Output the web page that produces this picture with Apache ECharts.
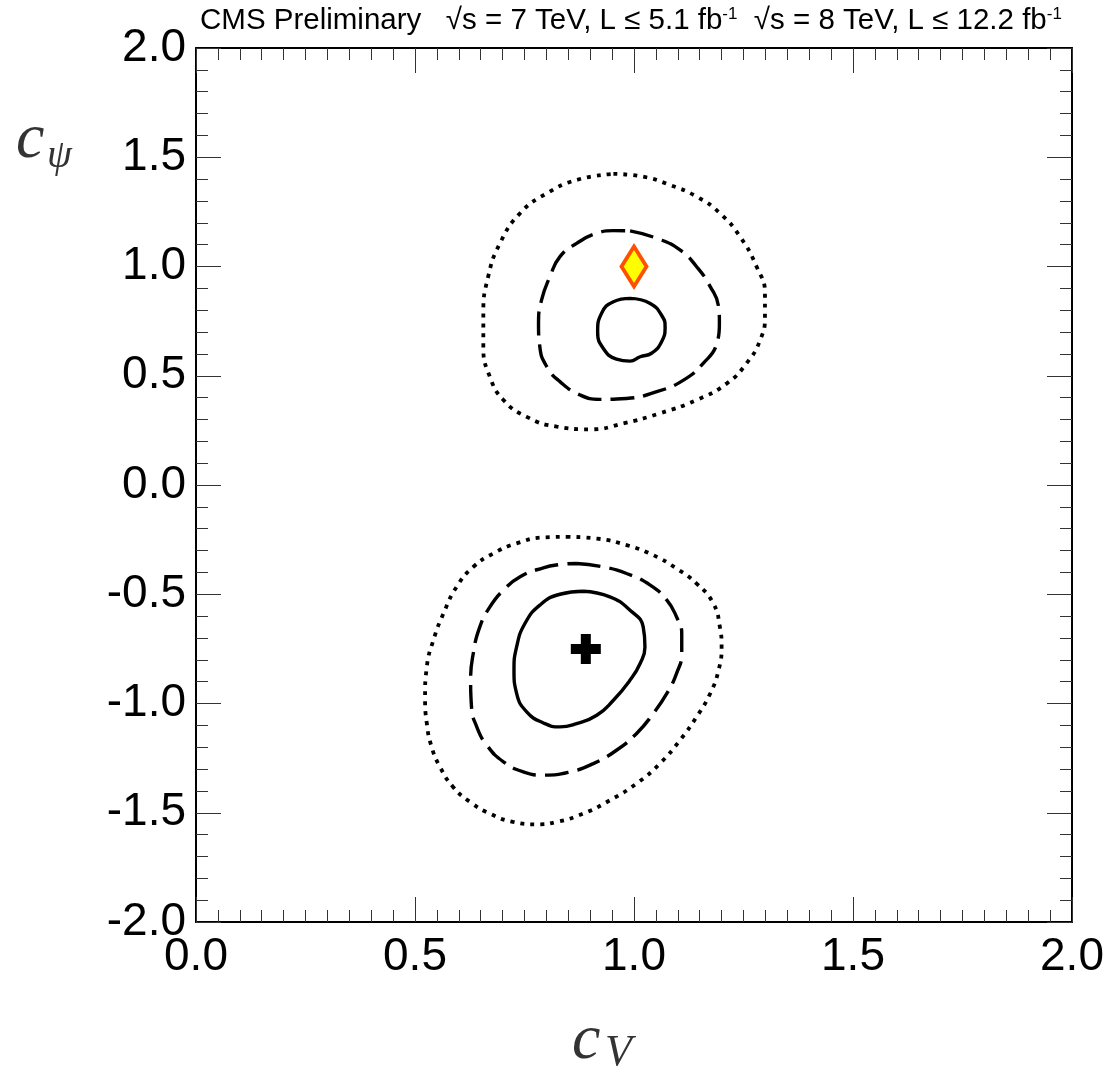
<!DOCTYPE html>
<html>
<head>
<meta charset="utf-8">
<script src="https://cdn.jsdelivr.net/npm/echarts@6/dist/echarts.min.js"></script>
<style>
html,body{margin:0;padding:0;background:#fff;}
#chart{width:1113px;height:1072px;}
</style>
</head>
<body>
<div id="chart"></div>
<script>
// ---- Data ----
const xTickValues = [0.0, 0.5, 1.0, 1.5, 2.0];
const xTickLabels = ['0.0', '0.5', '1.0', '1.5', '2.0'];
const yTickValues = [-2.0, -1.5, -1.0, -0.5, 0.0, 0.5, 1.0, 1.5, 2.0];
const yTickLabels = ['-2.0', '-1.5', '-1.0', '-0.5', '0.0', '0.5', '1.0', '1.5', '2.0'];

// Upper region contours (cV, cpsi)
const upper68 = [
  [0.991,0.854],[1.037,0.831],[1.065,0.770],[1.071,0.724],[1.063,0.656],[1.040,0.603],
  [1.014,0.587],[0.991,0.567],[0.960,0.576],[0.930,0.625],[0.917,0.701],[0.926,0.786],
  [0.953,0.839],[0.991,0.854]
];
const upper95 = [
  [0.991,1.163],[1.052,1.129],[1.105,1.076],[1.143,0.999],[1.174,0.908],[1.193,0.816],
  [1.195,0.740],[1.189,0.648],[1.158,0.557],[1.113,0.480],[1.052,0.427],[0.983,0.396],
  [0.922,0.392],[0.877,0.412],[0.831,0.473],[0.801,0.541],[0.785,0.633],[0.782,0.740],
  [0.789,0.847],[0.808,0.953],[0.831,1.045],[0.869,1.106],[0.915,1.152],[0.953,1.164],
  [0.991,1.163]
];
const upper99 = [
  [0.953,1.424],[1.021,1.411],[1.082,1.373],[1.143,1.320],[1.196,1.244],[1.242,1.137],
  [1.280,0.999],[1.299,0.877],[1.299,0.770],[1.288,0.663],[1.257,0.557],[1.212,0.465],
  [1.143,0.389],[1.059,0.328],[0.976,0.282],[0.900,0.255],[0.824,0.267],[0.755,0.312],
  [0.702,0.389],[0.671,0.495],[0.656,0.633],[0.656,0.786],[0.667,0.953],[0.694,1.106],
  [0.740,1.244],[0.801,1.335],[0.869,1.396],[0.953,1.424]
];
// Lower region contours
const lower68 = [
  [0.884,-0.486],[0.945,-0.512],[0.991,-0.573],[1.021,-0.649],[1.025,-0.741],[1.014,-0.817],
  [0.991,-0.893],[0.953,-0.985],[0.915,-1.054],[0.869,-1.092],[0.831,-1.107],[0.793,-1.089],
  [0.755,-1.038],[0.732,-0.954],[0.726,-0.848],[0.732,-0.741],[0.751,-0.634],[0.785,-0.550],
  [0.831,-0.500],[0.884,-0.486]
];
const lower95 = [
  [0.869,-0.359],[0.930,-0.375],[0.983,-0.405],[1.037,-0.458],[1.075,-0.527],[1.097,-0.603],
  [1.109,-0.680],[1.109,-0.771],[1.097,-0.863],[1.075,-0.954],[1.044,-1.046],[1.006,-1.137],
  [0.960,-1.214],[0.907,-1.275],[0.854,-1.313],[0.793,-1.328],[0.747,-1.313],[0.702,-1.267],
  [0.664,-1.191],[0.641,-1.107],[0.629,-1.016],[0.627,-0.893],[0.633,-0.771],[0.648,-0.649],
  [0.671,-0.558],[0.702,-0.481],[0.740,-0.420],[0.793,-0.379],[0.831,-0.364],[0.869,-0.359]
];
const lower99 = [
  [0.846,-0.237],[0.915,-0.245],[0.983,-0.275],[1.044,-0.321],[1.097,-0.382],[1.143,-0.451],
  [1.181,-0.542],[1.196,-0.649],[1.200,-0.741],[1.193,-0.848],[1.174,-0.954],[1.143,-1.061],
  [1.105,-1.168],[1.059,-1.275],[1.006,-1.366],[0.945,-1.443],[0.884,-1.504],[0.824,-1.542],
  [0.778,-1.553],[0.724,-1.542],[0.671,-1.504],[0.626,-1.451],[0.587,-1.382],[0.557,-1.290],
  [0.538,-1.199],[0.527,-1.092],[0.523,-0.970],[0.527,-0.832],[0.542,-0.710],[0.565,-0.588],
  [0.595,-0.466],[0.633,-0.375],[0.679,-0.313],[0.732,-0.267],[0.793,-0.240],[0.846,-0.237]
];
const bestFit = [[0.89, -0.75]];
const smPoint = [[1.0, 1.0]];

// ---- Chart ----
const chart = echarts.init(document.getElementById('chart'), null, {renderer: 'canvas'});
const FONT = 'Liberation Sans, Arial, Helvetica, sans-serif';
const SERIF = 'Liberation Serif, DejaVu Serif, serif';

function fmt(values, labels) {
  return function (v) {
    for (let i = 0; i < values.length; i++) {
      if (Math.abs(values[i] - v) < 1e-9) return labels[i];
    }
    return '';
  };
}

function axisCommon(isX, showLabels, pos) {
  return {
    type: 'value',
    position: pos,
    min: isX ? xTickValues[0] : yTickValues[0],
    max: isX ? xTickValues[xTickValues.length - 1] : yTickValues[yTickValues.length - 1],
    interval: 0.5,
    axisLine: {show: true, onZero: false, lineStyle: {color: '#000', width: 2}},
    axisTick: {show: true, inside: true, length: 25, lineStyle: {color: '#333', width: 1}},
    minorTick: {show: true, splitNumber: isX ? 10 : 5, length: 12, lineStyle: {color: '#333', width: 1}},
    splitLine: {show: false},
    minorSplitLine: {show: false},
    axisLabel: {
      show: showLabels,
      fontSize: 46,
      fontFamily: FONT,
      color: '#000',
      margin: isX ? 12 : 10,
      showMinLabel: true,
      showMaxLabel: true,
      formatter: isX ? fmt(xTickValues, xTickLabels) : fmt(yTickValues, yTickLabels)
    }
  };
}

function contour(data, dash, width) {
  return {
    type: 'line',
    data: data,
    smooth: 0.5,
    showSymbol: false,
    symbol: 'none',
    silent: true,
    lineStyle: {color: '#000', width: width, type: dash, cap: 'butt', opacity: 1},
    z: 2
  };
}

const option = {
  animation: false,
  backgroundColor: '#fff',
  grid: {left: 196, right: 41, top: 48, bottom: 150, containLabel: false},
  xAxis: [axisCommon(true, true, 'bottom'), axisCommon(true, false, 'top')],
  yAxis: [axisCommon(false, true, 'left'), axisCommon(false, false, 'right')],
  series: [
    contour(upper99, [4, 6], 3.8),
    contour(upper95, [24, 9], 3.4),
    contour(upper68, 'solid', 3.4),
    contour(lower99, [4, 6], 3.8),
    contour(lower95, [24, 9], 3.4),
    contour(lower68, 'solid', 3.4),
    {
      type: 'scatter',
      data: bestFit,
      symbol: 'path://M10,0H20V10H30V20H20V30H10V20H0V10H10Z',
      symbolSize: 30,
      silent: true,
      itemStyle: {color: '#000', opacity: 1},
      z: 5
    },
    {
      type: 'scatter',
      data: smPoint,
      symbol: 'diamond',
      symbolSize: [25, 40],
      silent: true,
      itemStyle: {color: '#ffff00', borderColor: '#ff5000', borderWidth: 4, opacity: 1},
      z: 6
    }
  ],
  graphic: [
    {
      type: 'text',
      left: 200,
      top: 6,
      style: {
        text: 'CMS Preliminary   {n|√s = 7 TeV, L ≤ 5.1 fb}{s|-1}  {n|√s = 8 TeV, L ≤ 12.2 fb}{s|-1}',
        font: '29.5px ' + FONT,
        fill: '#000',
        rich: {
          n: {fontSize: 29.5, fontFamily: FONT, fill: '#000'},
          s: {fontSize: 17, fontFamily: FONT, verticalAlign: 'top', fill: '#000'}
        }
      }
    },
    {
      type: 'text',
      x: 16, y: 140,
      style: {text: 'c', font: 'italic 64px ' + SERIF, fill: '#333', verticalAlign: 'middle', align: 'left'}
    },
    {
      type: 'text',
      x: 47, y: 156,
      style: {text: 'ψ', font: 'italic 40px ' + SERIF, fill: '#333', verticalAlign: 'middle', align: 'left'}
    },
    {
      type: 'text',
      x: 572, y: 1041,
      style: {text: 'c', font: 'italic 64px ' + SERIF, fill: '#333', verticalAlign: 'middle', align: 'left'}
    },
    {
      type: 'text',
      x: 605, y: 1053,
      style: {text: 'V', font: 'italic 44px ' + SERIF, fill: '#333', verticalAlign: 'middle', align: 'left'}
    }
  ]
};
chart.setOption(option);
</script>
</body>
</html>
